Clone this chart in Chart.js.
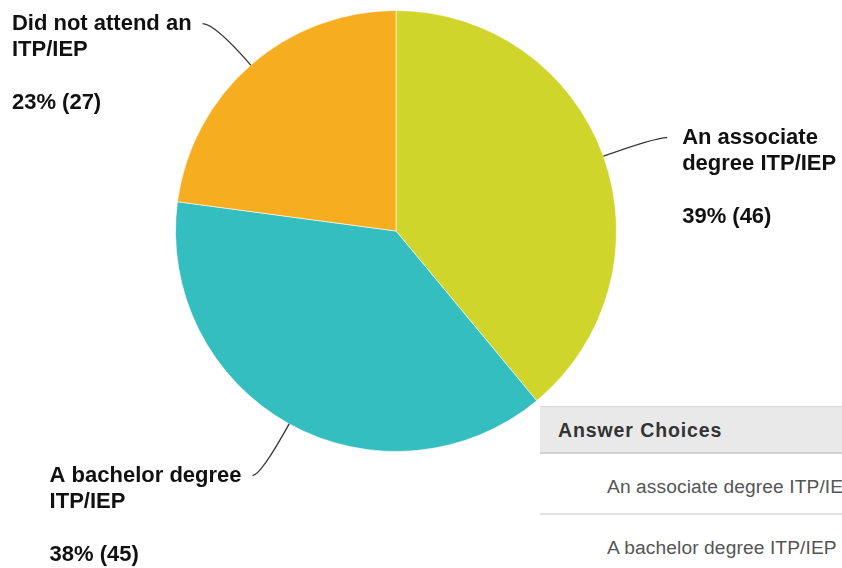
<!DOCTYPE html>
<html>
<head>
<meta charset="utf-8">
<script src="https://cdn.jsdelivr.net/npm/chart.js@4/dist/chart.umd.min.js"></script>
<style>
  html, body { margin: 0; padding: 0; background: #fff; overflow: hidden; }
  #wrap { position: relative; width: 842px; height: 568px; overflow: hidden; }
  #pie { position: absolute; left: 0; top: 0; }
  .answers { position: absolute; left: 540px; top: 406px; width: 420px; font-family: "Liberation Sans", Arial, sans-serif; }
  .answers .head { height: 45px; line-height: 46px; background: #e9e9e9; border-top: 1px solid #d6d6d6; border-bottom: 2px solid #d3d3d3;
    padding-left: 18px; font-weight: bold; font-size: 19.5px; color: #333; letter-spacing: 0.9px; }
  .answers .row { height: 59px; line-height: 66px; padding-left: 67px; font-size: 19.2px; color: #555; background: #fff; border-bottom: 2px solid #e2e2e2; white-space: nowrap; letter-spacing: 0.1px; }
</style>
</head>
<body>
<div id="wrap">
  <canvas id="pie" width="842" height="568"></canvas>
  <div class="answers" id="answers"></div>
</div>
<script>
// answer choices, clockwise from 12 o'clock
var labels = ['An associate degree ITP/IEP', 'A bachelor degree ITP/IEP', 'Did not attend an ITP/IEP'];
var labelLines = [['An associate', 'degree ITP/IEP'], ['A bachelor degree', 'ITP/IEP'], ['Did not attend an', 'ITP/IEP']];
var counts = [46, 45, 27];
var percents = [39, 38, 23];
var colors = ['#cfd52a', '#34bec0', '#f6ad1f'];

// rows visible in the table under the chart
var tableRows = labels.slice(0, 2);

function $(id) { return document.getElementById(id); }
var box = $('answers');
box.innerHTML = "<div class='head'>Answer Choices</div>";
for (var i = 0; i < tableRows.length; i++) {
  box.innerHTML += "<div class='row'>" + tableRows[i] + "</div>";
}

var leaderLabels = {
  id: 'leaderLabels',
  afterDatasetsDraw: function(chart) {
    var ctx = chart.ctx;
    var arcs = chart.getDatasetMeta(0).data;
    ctx.save();
    ctx.font = 'bold 22px "Liberation Sans", Arial, sans-serif';
    ctx.textBaseline = 'middle';
    ctx.fillStyle = '#111';
    for (var i = 0; i < arcs.length; i++) {
      var a = arcs[i].getProps(['x', 'y', 'startAngle', 'endAngle', 'outerRadius'], true);
      var mid = (a.startAngle + a.endAngle) / 2;
      var cx = Math.cos(mid), cy = Math.sin(mid);
      var r = a.outerRadius;
      // labels below the middle sit a little further out
      var ext = cy > 0 ? 59 : 55;
      var hor = cy > 0 ? 8 : 12;
      var p0 = { x: a.x + cx * r, y: a.y + cy * r };
      var p1 = { x: a.x + cx * (r + ext), y: a.y + cy * (r + ext) };
      var side = cx > 0 ? 1 : -1;
      var p2 = { x: p1.x + side * hor, y: p1.y };

      ctx.strokeStyle = '#333';
      ctx.lineWidth = 1.3;
      ctx.beginPath();
      ctx.moveTo(p0.x, p0.y);
      ctx.quadraticCurveTo(p1.x, p1.y, p2.x, p2.y);
      ctx.stroke();

      var lines = labelLines[i].concat(['', percents[i] + '% (' + counts[i] + ')']);
      var w = 0;
      lines.forEach(function(t) { w = Math.max(w, ctx.measureText(t).width); });
      var left = side > 0 ? p2.x + 15 : p2.x - 11 - w;
      ctx.textAlign = 'left';
      for (var j = 0; j < lines.length; j++) {
        ctx.fillText(lines[j], left, p2.y + j * 26.5);
      }
    }
    ctx.restore();
  }
};

var chart = new Chart($('pie').getContext('2d'), {
  type: 'pie',
  data: {
    labels: labels,
    datasets: [{
      data: counts,
      backgroundColor: colors,
      borderColor: 'rgba(255,255,255,0.6)',
      borderWidth: 1
    }]
  },
  options: {
    responsive: false,
    animation: false,
    layout: { padding: { left: 175, top: 10, right: 225, bottom: 116 } },
    plugins: { legend: { display: false }, tooltip: { enabled: false } }
  },
  plugins: [leaderLabels]
});
</script>
</body>
</html>
